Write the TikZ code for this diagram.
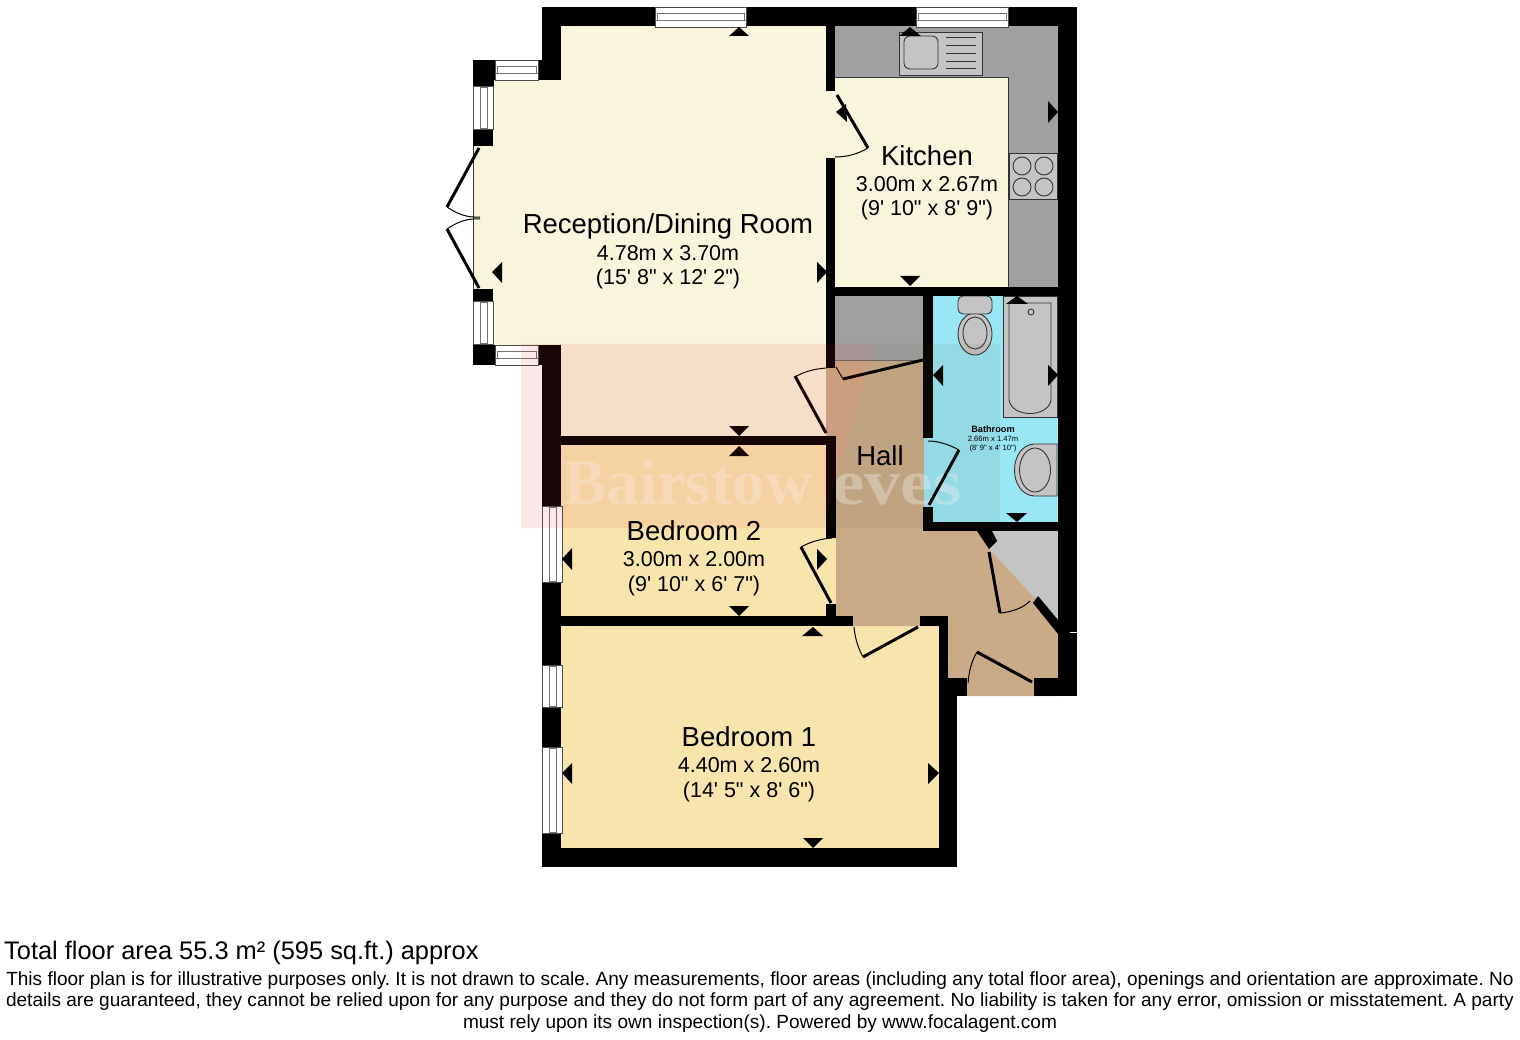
\documentclass[tikz,border=0pt]{standalone}
\usepackage{fontspec}
\newfontfamily\lsf{Liberation Sans}
\newfontfamily\lsr{Liberation Serif}
\definecolor{recep}{HTML}{F9F4DC}
\definecolor{bedc}{HTML}{F8E5AE}
\definecolor{hallc}{HTML}{C9AB88}
\definecolor{bathc}{HTML}{99E6F5}
\definecolor{unitc}{HTML}{A0A0A0}
\definecolor{applc}{HTML}{C4C4C4}
\definecolor{overred}{HTML}{E03838}
\definecolor{overtan}{HTML}{605030}
\tikzset{
 x=1pt,y=-1pt,
 wall/.style={fill=black,draw=none},
 winbox/.style={fill=white,draw=black!70,line width=.7pt},
 winline/.style={draw=black!55,line width=.6pt},
 doorleaf/.style={draw=black,line width=3pt},
 swing/.style={draw=black,line width=1pt},
 mark1/.style={fill=black,draw=none},
 fixture/.style={fill=applc,draw=black!80,line width=.9pt},
 fixline/.style={draw=black!80,line width=.9pt},
 big/.style={font=\lsf\fontsize{27.5}{30}\selectfont,inner sep=0pt,anchor=base},
 small/.style={font=\lsf\fontsize{21.5}{24}\selectfont,inner sep=0pt,anchor=base},
 foot/.style={font=\lsf\frenchspacing\fontsize{19.05}{22}\selectfont,inner sep=0pt,anchor=base},
 tiny1/.style={font=\lsf\fontsize{7.6}{9}\selectfont,inner sep=0pt,anchor=base},
 wmark/.style={text=white,opacity=.36,inner sep=0pt,anchor=base west,transform shape},
}
\newcommand{\winH}[4]{%
 \draw[winbox] (#1,#2) rectangle (#3,#4);
 \draw[winline] (#1+2,#2+6.5) rectangle (#3-2,#2+13);
 \draw[winline] (#1,#2+13) -- (#3,#2+13);
}
\newcommand{\winV}[4]{%
 \draw[winbox] (#1,#2) rectangle (#3,#4);
 \draw[winline] (#1+7,#2+1) rectangle (#1+14,#4-1);
}
\newcommand{\tri}[6]{\fill[mark1] (#1,#2) -- (#3,#4) -- (#5,#6) -- cycle;}
\begin{document}
\begin{tikzpicture}
\useasboundingbox (0,0) rectangle (1520,1040);
\fill[white] (0,0) rectangle (1520,1040);
% floors
\fill[recep] (561,26) -- (832,26) -- (832,437) -- (561,437) -- (561,345) -- (492,345) -- (492,80) -- (561,80) -- cycle;
\fill[recep] (473,146) rectangle (495,290);
\fill[recep] (832,76) rectangle (1008,287);
\fill[unitc] (835,26) -- (1058,26) -- (1058,287) -- (1008,287) -- (1008,77) -- (835,77) -- cycle;
\draw[black!80,line width=.7pt] (835,77) -- (1008,77) -- (1008,287);
\fill[bedc] (561,445) rectangle (836,617);
\fill[bedc] (561,626) rectangle (939,848);
\fill[hallc] (826,368) -- (835,368) -- (835,295) -- (924,295) -- (924,530) -- (1000,530) -- (1058,625) -- (1058,696) -- (967,696) -- (967,678) -- (948,678) -- (948,626) -- (835,626) -- (835,445) -- (826,445) -- cycle;
\fill[unitc] (835,295) rectangle (924,360);
\draw[black!60,line width=.7pt] (835,360.5) -- (924,360.5);
\fill[bathc] (924,295) rectangle (1058,522);
\fill[applc] (990,531) -- (1058,531) -- (1058,620) -- (1035,598) -- (990,550) -- cycle;
\fill[bedc] (826,538) rectangle (836,604);
% sink
\fill[fixture] (899,32) rectangle (982,75);
\draw[fixline,rounded corners=6pt] (904,36) rectangle (938,69);
\foreach \yy in {37,45,53,61,68} \draw[fixline] (946,\yy) -- (976,\yy);
% hob
\draw[fixture] (1009,153) rectangle (1057,199);
\foreach \xa/\ya in {1022/166,1044/166,1022/187,1044/187} \draw[fixline,fill=applc] (\xa,\ya) circle (9);
% wc
\draw[fixture] (975,334) ellipse (17 and 21);
\draw[fixture,rounded corners=5pt] (958,296) rectangle (992,314);
\draw[fixline] (975,333) ellipse (12 and 16);
% bath
\draw[fixture] (1003,296) rectangle (1057,417);
\draw[fixline] (1009,303) -- (1051,303) -- (1051,400) .. controls (1048,418) and (1012,418) .. (1009,400) -- cycle;
\draw[fixline] (1031,312) circle (3);
% basin
\draw[fixture] (1057,444) -- (1034,444) .. controls (1008,446) and (1008,494) .. (1034,496) -- (1057,496) -- cycle;
\draw[fixline] (1035,470) ellipse (15.5 and 22);
% watermark lettering lies on the floors, under the walls
\begin{scope}
\node[wmark,font=\lsr\bfseries\fontsize{65}{65}\selectfont] (wm1) at (563,504) {Bairstow};
\begin{scope}[shift={(832,504)},xscale=1.12]
\node[wmark,font=\lsr\bfseries\fontsize{65}{65}\selectfont] (wm2) at (0,0) {eves};
\end{scope}
\end{scope}
% walls
\fill[wall] (542,7) rectangle (1077,26);
\fill[wall] (542,7) rectangle (561,80);
\fill[wall] (494,60) rectangle (561,80);
\fill[wall] (473,60) rectangle (494,86);
\fill[wall] (473,86) rectangle (493,146);
\fill[wall] (473,289) rectangle (493,365);
\fill[wall] (473,345) rectangle (561,365);
\fill[wall] (542,345) rectangle (561,867);
\fill[wall] (542,848) rectangle (957,867);
\fill[wall] (939,696) rectangle (957,867);
\fill[wall] (939,616) rectangle (948,696);
\fill[wall] (1058,7) rectangle (1077,696);
\fill[wall] (826,7) rectangle (835,91);
\fill[wall] (826,158) rectangle (835,368);
\fill[wall] (826,287) rectangle (1077,296);
\fill[wall] (923,296) rectangle (933,438);
\fill[wall] (923,507) rectangle (933,531);
\fill[wall] (923,522) rectangle (1077,531);
\fill[wall] (561,436) rectangle (836,445);
\fill[wall] (826,436) rectangle (836,538);
\fill[wall] (826,604) rectangle (836,617);
\fill[wall] (561,616) rectangle (853,626);
\fill[wall] (920,616) rectangle (948,626);
\fill[wall] (939,678) rectangle (967,696);
\fill[wall] (1034,678) rectangle (1077,696);
\fill[wall] (977,531) -- (992,531) -- (997,541) -- (989,549) -- cycle;
\fill[wall] (1033,603) -- (1038,596) -- (1058,620) -- (1058,634) -- cycle;
\draw[white,line width=.8pt] (1070,632) -- (1077,632);
% windows
\winH{655}{7}{746}{27}
\winH{916}{7}{1008}{27}
\winH{495}{60}{538}{80}
\winH{495}{345}{538}{365}
\winV{473}{86}{493}{129}
\winV{473}{301}{493}{344}
\winV{542}{506}{562}{582}
\winV{542}{665}{562}{707}
\winV{542}{747}{562}{833}
% french doors
\draw[black!80,line width=.9pt] (473,146) -- (473,290);
\draw[doorleaf] (479,148) -- (447,207);
\draw[doorleaf] (479,288) -- (447,229);
\draw[swing] (447,207) .. controls (457,214) and (468,218) .. (480,217);
\draw[swing] (447,229) .. controls (457,222) and (468,218) .. (480,219);
% doors
\draw[doorleaf] (837,95) -- (868,148);
\draw[swing] (835,157) .. controls (847,157) and (858,154) .. (868,148);
\draw[doorleaf] (826,433) -- (795,376);
\draw[swing] (795,377) .. controls (805,371) and (815,369) .. (826,368);
\draw[doorleaf] (923,360) -- (843,379);
\draw[swing] (836,367) -- (843,379);
\draw[doorleaf] (929,505) -- (959,450);
\draw[swing] (928,441) .. controls (939,441) and (950,445) .. (959,450);
\draw[doorleaf] (831,603) -- (801,547);
\draw[swing] (801,547) .. controls (810,542) and (820,539) .. (832,538);
\draw[doorleaf] (918,627) -- (863,657);
\draw[swing] (854,627) .. controls (855,638) and (858,648) .. (863,657);
\draw[doorleaf] (989,552) -- (1000,613);
\draw[swing] (1000,613) .. controls (1012,612) and (1023,608) .. (1030,601);
\draw[doorleaf] (1032,682) -- (977,652);
\draw[swing] (977,652) .. controls (971,662) and (969,672) .. (968,683);
% markers
\tri{729}{36}{749}{36}{739}{27}
\tri{899}{36}{921}{36}{910}{27}
\tri{1048}{101}{1058}{112}{1048}{123}
\tri{836}{112}{846}{104}{847}{122}
\tri{502}{262}{492}{272}{502}{283}
\tri{817}{262}{827}{272}{817}{283}
\tri{900}{276}{920}{276}{910}{286}
\tri{1006}{304}{1028}{304}{1017}{296}
\tri{1048}{365}{1058}{375}{1048}{386}
\tri{943}{365}{933}{375}{943}{386}
\tri{1006}{513}{1027}{513}{1017}{522}
\tri{729}{426}{749}{426}{739}{436}
\tri{729}{456}{749}{456}{739}{446}
\tri{729}{606}{749}{606}{739}{616}
\tri{802}{636}{823}{636}{813}{627}
\tri{803}{838}{823}{838}{813}{848}
\tri{572}{548}{562}{559}{572}{570}
\tri{817}{549}{827}{559}{817}{570}
\tri{572}{763}{562}{773}{572}{784}
\tri{928}{763}{939}{773}{928}{784}
% watermark tint
\fill[overred,opacity=.11] (521,344) -- (875,344) -- (822,528) -- (521,528) -- cycle;
\fill[overtan,opacity=.08] (875,344) -- (1000,344) -- (1000,528) -- (822,528) -- cycle;
% labels
\node[big] (n1) at (668,234) {Reception/Dining Room};
\node[small] (n1a) at (668,261) {4.78m x 3.70m};
\node[small] (n1b) at (668,285) {(15' 8" x 12' 2")};
\node[big] (n2) at (927,166) {Kitchen};
\node[small] (n2a) at (927,192) {3.00m x 2.67m};
\node[small] (n2b) at (927,216) {(9' 10" x 8' 9")};
\node[big] (n3) at (694,540) {Bedroom 2};
\node[small] (n3a) at (694,566) {3.00m x 2.00m};
\node[small] (n3b) at (694,591) {(9' 10" x 6' 7")};
\node[big] (n4) at (749,746) {Bedroom 1};
\node[small] (n4a) at (749,772) {4.40m x 2.60m};
\node[small] (n4b) at (749,797) {(14' 5" x 8' 6")};
\node[big] (n5) at (880,465) {Hall};
\node[font=\lsf\bfseries\fontsize{9.2}{10}\selectfont,inner sep=0pt,anchor=base] (n6) at (993,432) {Bathroom};
\node[tiny1] (n6a) at (993,441) {2.66m x 1.47m};
\node[tiny1] (n6b) at (993,450) {(8' 9" x 4' 10")};
\node[anchor=base west,font=\lsf\frenchspacing\fontsize{25.4}{28}\selectfont,inner sep=0pt] (t0) at (4,959) {Total floor area 55.3 m² (595 sq.ft.) approx};
\node[foot] (t1) at (760,985) {This floor plan is for illustrative purposes only. It is not drawn to scale. Any measurements, floor areas (including any total floor area), openings and orientation are approximate. No};
\node[foot] (t2) at (760,1006) {details are guaranteed, they cannot be relied upon for any purpose and they do not form part of any agreement. No liability is taken for any error, omission or misstatement. A party};
\node[foot] (t3) at (760,1028) {must rely upon its own inspection(s). Powered by www.focalagent.com};
\end{tikzpicture}
\end{document}
